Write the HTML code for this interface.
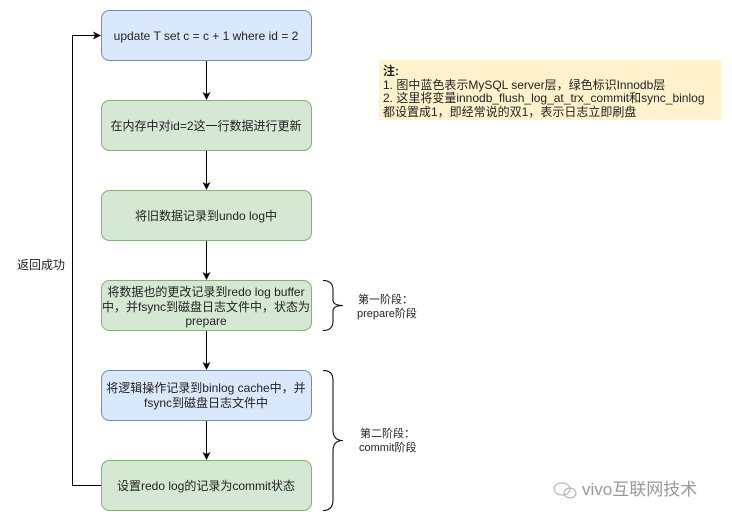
<!DOCTYPE html>
<html><head><meta charset="utf-8"><style>
body{margin:0;background:#fff;width:732px;height:522px;overflow:hidden;font-family:"Liberation Sans","Noto Sans CJK SC",sans-serif;}
</style></head><body>
<svg width="732" height="522" xmlns="http://www.w3.org/2000/svg" style="position:absolute;left:0;top:0">
<defs><marker id="a" markerWidth="8" markerHeight="8" refX="7" refY="4" orient="auto" markerUnits="userSpaceOnUse"><path d="M0,0 L8,4 L0,8 L2,4 z" fill="#000"/></marker></defs>
<g font-family="Liberation Sans, Noto Sans CJK SC, sans-serif" font-size="12" fill="#222" text-anchor="middle">
<rect x="101.5" y="10.5" width="210" height="50" rx="8" fill="#dae8fc" stroke="#6c8ebf"/>
<text x="206" y="40">update T set c = c + 1 where id = 2</text>
<rect x="101.5" y="100.5" width="210" height="50" rx="8" fill="#d5e8d4" stroke="#82b366"/>
<text x="206" y="130">在内存中对id=2这一行数据进行更新</text>
<rect x="101.5" y="190.5" width="210" height="50" rx="8" fill="#d5e8d4" stroke="#82b366"/>
<text x="206" y="220">将旧数据记录到undo log中</text>
<rect x="101.5" y="280.5" width="210" height="50" rx="8" fill="#d5e8d4" stroke="#82b366"/>
<text x="206" y="296">将数据也的更改记录到redo log buffer</text>
<text x="206" y="311">中，并fsync到磁盘日志文件中，状态为</text>
<text x="206" y="325">prepare</text>
<rect x="101.5" y="370.5" width="210" height="50" rx="8" fill="#dae8fc" stroke="#6c8ebf"/>
<text x="206" y="392">将逻辑操作记录到binlog cache中，并</text>
<text x="206" y="407">fsync到磁盘日志文件中</text>
<rect x="101.5" y="460.5" width="210" height="50" rx="8" fill="#d5e8d4" stroke="#82b366"/>
<text x="206" y="490">设置redo log的记录为commit状态</text>
</g>
<g stroke="#000" fill="none" stroke-width="1">
<line x1="206.5" y1="61" x2="206.5" y2="99" marker-end="url(#a)"/>
<line x1="206.5" y1="151" x2="206.5" y2="189" marker-end="url(#a)"/>
<line x1="206.5" y1="241" x2="206.5" y2="279" marker-end="url(#a)"/>
<line x1="206.5" y1="331" x2="206.5" y2="369" marker-end="url(#a)"/>
<line x1="206.5" y1="421" x2="206.5" y2="459" marker-end="url(#a)"/>
<polyline points="101,485.5 72.5,485.5 72.5,35.5 100,35.5" marker-end="url(#a)"/>
<path d="M323,280.5 Q333,280.5 333,290 L333,300 Q333,305.5 343,305.5 Q333,305.5 333,311 L333,321 Q333,330.5 323,330.5"/>
<path d="M323,370.5 Q333,370.5 333,380 L333,430 Q333,440.5 343,440.5 Q333,440.5 333,451 L333,500 Q333,510.5 323,510.5"/>
</g>
<rect x="379" y="60" width="342" height="60" fill="#fff2cc"/>
<g font-family="Liberation Sans, Noto Sans CJK SC, sans-serif" font-size="12" fill="#222">
<text x="383" y="75" font-weight="bold">注:</text>
<text x="383" y="89">1. 图中蓝色表示MySQL server层，绿色标识Innodb层</text>
<text x="383" y="102">2. 这里将变量innodb_flush_log_at_trx_commit和sync_binlog</text>
<text x="383" y="116">都设置成1，即经常说的双1，表示日志立即刷盘</text>
<text x="17" y="269">返回成功</text>
<text x="358" y="303" font-size="11">第一阶段：</text>
<text x="357" y="317" font-size="11">prepare阶段</text>
<text x="360" y="437" font-size="11">第二阶段：</text>
<text x="359" y="451" font-size="11">commit阶段</text>
<text x="582" y="495" font-size="17" fill="#999">vivo互联网技术</text>
</g>
<g stroke="#aaa" fill="none"><ellipse cx="562" cy="489" rx="8" ry="6"/><ellipse cx="570" cy="493" rx="6" ry="5"/></g>
</svg>
</body></html>
